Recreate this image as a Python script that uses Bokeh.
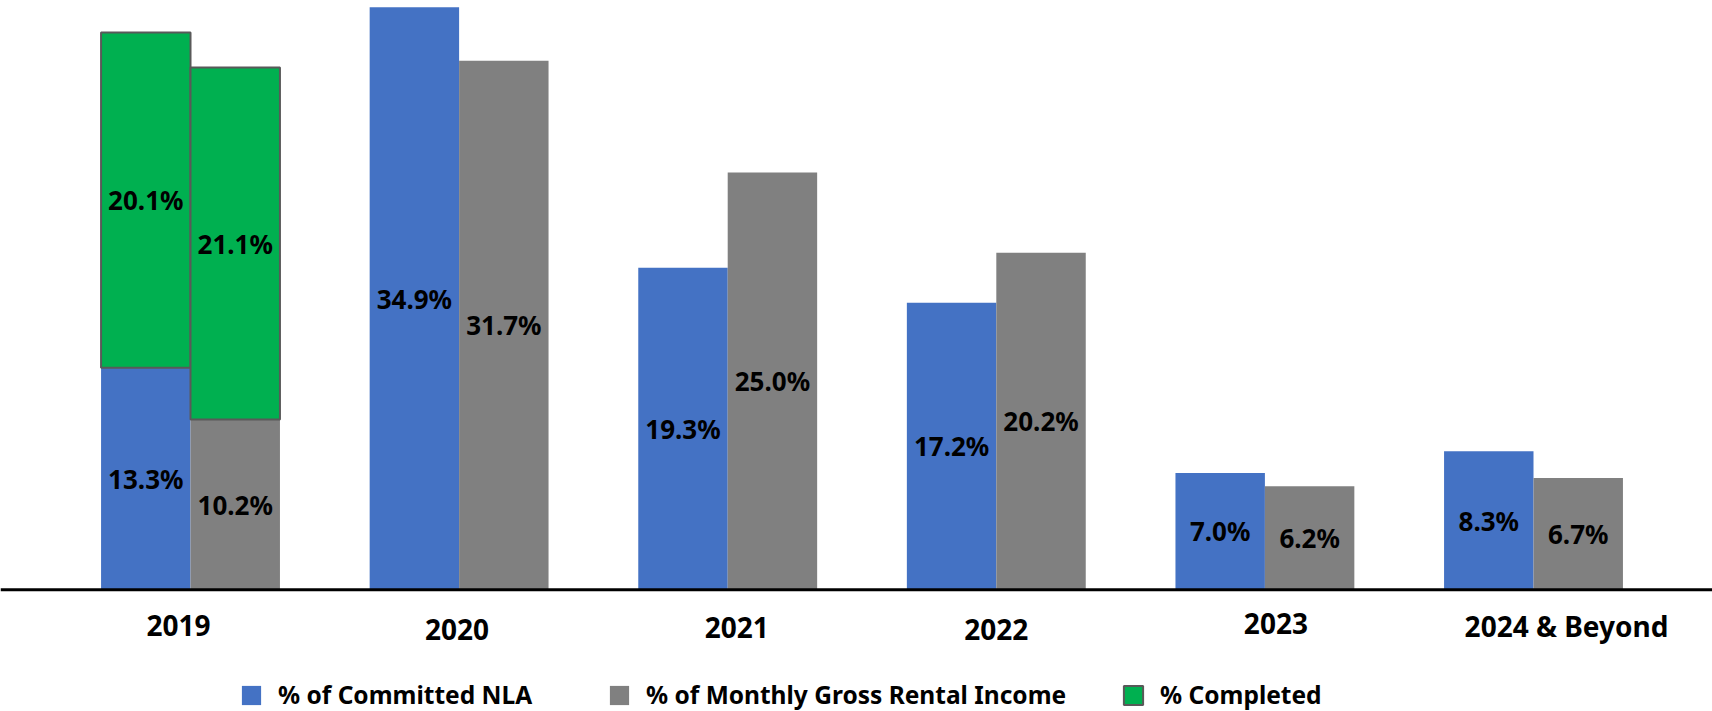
import numpy as np
from bokeh.plotting import figure
from bokeh.models import ColumnDataSource, Range1d, Span, Legend, LegendItem
from bokeh.core.properties import value
from bokeh.embed import file_html
from bokeh.resources import INLINE

# ---- data ----
categories = ["2019", "2020", "2021", "2022", "2023", "2024 & Beyond"]
committed_nla = [13.3, 34.9, 19.3, 17.2, 7.0, 8.3]
gross_rental_income = [10.2, 31.7, 25.0, 20.2, 6.2, 6.7]
completed_categories = ["2019"]
completed_nla = [20.1]
completed_gri = [21.1]
legend_labels = ["% of Committed NLA", "% of Monthly Gross Rental Income", "% Completed"]

# ---- styles ----
BLUE = "#4472C4"
GRAY = "#808080"
GREEN = "#00B050"
FONT = "Noto Sans"
BAR_W = 0.333
OFF = BAR_W / 2
label_dx = [-12, -2, 9, 0, 11, 33]      # category label pixel nudges
label_dy = [36, 40, 38, 40, 34, 36]
legend_x = [239, 607, 1121]             # legend item screen positions

idx = np.arange(len(categories))
pos = {c: i for i, c in enumerate(categories)}

p = figure(width=1712, height=711, output_backend="svg", toolbar_location=None,
           x_range=Range1d(-0.7074, 5.6664), y_range=Range1d(-7.29, 35.31),
           x_axis_type=None, y_axis_type=None, min_border=0)
p.outline_line_color = None
p.xgrid.visible = False
p.ygrid.visible = False

blue_src = ColumnDataSource(dict(x=idx - OFF, top=committed_nla, y=np.array(committed_nla) / 2,
                                 txt=[f"{v:.1f}%" for v in committed_nla]))
gray_src = ColumnDataSource(dict(x=idx + OFF, top=gross_rental_income, y=np.array(gross_rental_income) / 2,
                                 txt=[f"{v:.1f}%" for v in gross_rental_income]))

ci = np.array([pos[c] for c in completed_categories])
b_base = np.array([committed_nla[pos[c]] for c in completed_categories])
g_base = np.array([gross_rental_income[pos[c]] for c in completed_categories])
green_x = np.concatenate([ci - OFF, ci + OFF])
green_bottom = np.concatenate([b_base, g_base])
green_vals = np.array(completed_nla + completed_gri)
green_src = ColumnDataSource(dict(x=green_x, bottom=green_bottom, top=green_bottom + green_vals,
                                  y=green_bottom + green_vals / 2,
                                  txt=[f"{v:.1f}%" for v in green_vals]))

r_blue = p.vbar(x="x", top="top", bottom=0, width=BAR_W, source=blue_src,
                fill_color=BLUE, line_color=None)
r_gray = p.vbar(x="x", top="top", bottom=0, width=BAR_W, source=gray_src,
                fill_color=GRAY, line_color=None)
r_green = p.vbar(x="x", top="top", bottom="bottom", width=BAR_W, source=green_src,
                 fill_color=GREEN, line_color="#595959", line_width=2)

for src in (blue_src, gray_src, green_src):
    p.text(x="x", y="y", text="txt", source=src, text_align="center",
           text_baseline="middle", text_font=value(FONT), text_font_style="bold",
           text_font_size="26px", text_color="black")

p.add_layout(Span(location=0, dimension="width", line_color="black", line_width=3))

cat_src = ColumnDataSource(dict(x=idx, y=np.zeros(len(categories)), txt=categories,
                                dx=label_dx, dy=label_dy))
p.text(x="x", y="y", text="txt", source=cat_src, x_offset="dx", y_offset="dy",
       text_align="center", text_baseline="middle", text_font=value(FONT),
       text_font_style="bold", text_font_size="28px", text_color="black")

for lab, rend, lx in zip(legend_labels, [r_blue, r_gray, r_green], legend_x):
    lg = Legend(items=[LegendItem(label=lab, renderers=[rend])],
                orientation="horizontal", location=(lx, 0),
                glyph_width=24, glyph_height=24, label_height=24,
                label_standoff=15, padding=0, margin=0,
                border_line_color=None, background_fill_alpha=0,
                label_text_font=FONT, label_text_font_style="bold",
                label_text_font_size="24.5px", label_text_color="black")
    p.add_layout(lg, "center")

open("out.html", "w").write(file_html(p, INLINE))
